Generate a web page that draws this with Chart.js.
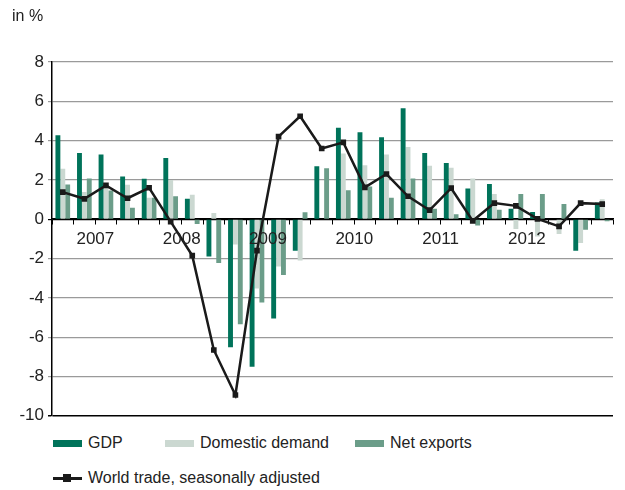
<!DOCTYPE html>
<html>
<head>
<meta charset="utf-8">
<script src="https://cdn.jsdelivr.net/npm/chart.js@4"></script>
<style>
  body { margin: 0; background: #fff; font-family: "Liberation Sans", Arial, sans-serif; color: #222; }
  #wrap { position: relative; width: 625px; height: 490px; }
  #unit { position: absolute; left: 12px; top: 7px; font-size: 16px; }
  #chartBox { position: absolute; left: 0; top: 0; width: 625px; height: 430px; }
  .leg { position: absolute; font-size: 16px; display: flex; align-items: center; }
  .sw { width: 29px; height: 7px; margin-right: 6px; }
  .ln { width: 29px; height: 10px; margin-right: 6px; position: relative; }
  .ln:before { content: ""; position: absolute; left: 0; right: 0; top: 4px; height: 2.5px; background: #1a1a1a; }
  .ln:after { content: ""; position: absolute; left: 10px; top: 1px; width: 8px; height: 8px; background: #1a1a1a; }
</style>
</head>
<body>
<div id="wrap">
  <div id="chartBox"><canvas id="chart"></canvas></div>
  <div id="unit">in %</div>
  <div class="leg" style="left:53px; top:434px;"><div class="sw" style="background:#00735a"></div>GDP</div>
  <div class="leg" style="left:165px; top:434px;"><div class="sw" style="background:#cbd8d1"></div>Domestic demand</div>
  <div class="leg" style="left:355px; top:434px;"><div class="sw" style="background:#6b9d89"></div>Net exports</div>
  <div class="leg" style="left:53px; top:469px;"><div class="ln"></div>World trade, seasonally adjusted</div>
</div>
<script>
const quarters = [
  "2007 Q1", "2007 Q2", "2007 Q3", "2007 Q4",
  "2008 Q1", "2008 Q2", "2008 Q3", "2008 Q4",
  "2009 Q1", "2009 Q2", "2009 Q3", "2009 Q4",
  "2010 Q1", "2010 Q2", "2010 Q3", "2010 Q4",
  "2011 Q1", "2011 Q2", "2011 Q3", "2011 Q4",
  "2012 Q1", "2012 Q2", "2012 Q3", "2012 Q4",
  "2013 Q1", "2013 Q2"
];

// years that get a label on the axis (2013 is not labelled)
const yearLabels = ["2007", "2008", "2009", "2010", "2011", "2012"];

const gdp = [4.27, 3.37, 3.3, 2.18, 2.06, 3.11, 1.04, -1.89, -6.51, -7.5, -5.05, -1.6,
  2.7, 4.66, 4.42, 4.17, 5.65, 3.37, 2.86, 1.56, 1.79, 0.54, 0.37, 0.0, -1.6, 0.85];

const domesticDemand = [2.57, 1.38, 1.72, 1.75, 1.09, 2.0, 1.24, 0.32, -1.29, -3.52, -2.4, -2.1,
  0.0, 3.35, 2.75, 3.3, 3.67, 2.72, 2.62, 2.07, 1.29, -0.49, -0.88, -0.75, -1.21, 1.02];

const netExports = [1.77, 2.07, 1.46, 0.58, 1.09, 1.17, -0.24, -2.23, -5.34, -4.23, -2.84, 0.36,
  2.6, 1.48, 1.67, 1.09, 2.07, 0.53, 0.26, -0.32, 0.48, 1.28, 1.28, 0.78, -0.53, -0.1];

const worldTrade = [1.38, 1.04, 1.72, 1.07, 1.6, -0.12, -1.85, -6.65, -8.94, -1.6, 4.2, 5.24,
  3.6, 3.91, 1.62, 2.3, 1.17, 0.46, 1.58, -0.08, 0.82, 0.68, 0.02, -0.36, 0.82, 0.77];

const yTicks = [8, 6, 4, 2, 0, -2, -4, -6, -8, -10];

const font = { family: "'Liberation Sans', Arial, sans-serif", size: 17 };

// bar style shared
function barSet(label, data, color) {
    return {
        type: "bar",
        label: label,
        data: data,
        backgroundColor: color,
        borderWidth: 0,
        barPercentage: 1,
        categoryPercentage: 0.68,
        order: 2
    };
}

new Chart(document.getElementById("chart"), {
    data: {
        labels: quarters,
        datasets: [
            {
                type: "line",
                label: "World trade, seasonally adjusted",
                data: worldTrade,
                borderColor: "#1a1a1a",
                backgroundColor: "#1a1a1a",
                borderWidth: 2.5,
                pointStyle: "rect",
                pointRadius: 4,
                pointBorderWidth: 0,
                tension: 0,
                order: 1
            },
            barSet("GDP", gdp, "#00735a"),
            barSet("Domestic demand", domesticDemand, "#cbd8d1"),
            barSet("Net exports", netExports, "#6b9d89")
        ]
    },
    options: {
        responsive: true,
        maintainAspectRatio: false,
        animation: false,
        layout: { padding: { top: 62, right: 12, bottom: 9, left: 0 } },
        plugins: {
            legend: { display: false },
            tooltip: { enabled: false }
        },
        scales: {
            x: {
                type: "category",
                position: { y: 0 },
                offset: true,
                grid: {
                    offset: true,
                    drawOnChartArea: false,
                    tickLength: 5,
                    color: "#000",
                    lineWidth: 1
                },
                border: { display: true, color: "#000", width: 1.5 },
                ticks: {
                    z: 1,
                    autoSkip: false,
                    maxRotation: 0,
                    labelOffset: 11,
                    padding: 5,
                    color: "#222",
                    font: font,
                    callback: function (value, index) {
                        const year = quarters[index].slice(0, 4);
                        return index % 4 === 1 && yearLabels.includes(year) ? year : "";
                    }
                }
            },
            y: {
                min: -10,
                max: 8,
                afterBuildTicks: function (scale) {
                    scale.ticks = yTicks.map(v => ({ value: v }));
                },
                afterFit: function (scale) {
                    scale.width = 52;
                },
                grid: {
                    color: function (ctx) {
                        if (ctx.tick && (ctx.tick.value === 0 || ctx.tick.value === -10)) return "#000";
                        return "#9a9a9a";
                    },
                    lineWidth: function (ctx) {
                        if (ctx.tick && ctx.tick.value === -10) return 1.5;
                        return 1.2;
                    },
                    tickLength: 4
                },
                border: { display: true, color: "#000", width: 1.5 },
                ticks: {
                    color: "#222",
                    font: font,
                    padding: 4
                }
            }
        }
    }
});
</script>
</body>
</html>
